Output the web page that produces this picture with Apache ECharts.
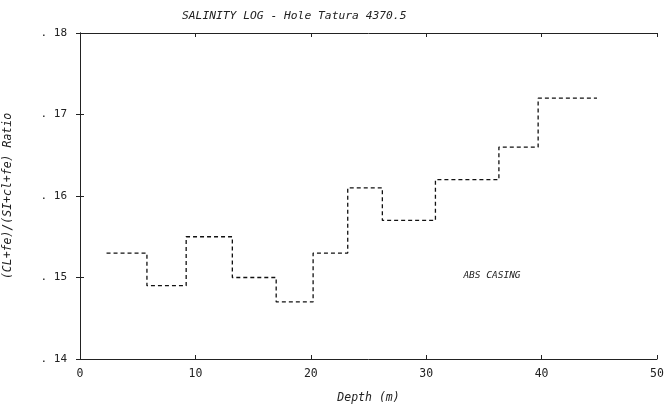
<!DOCTYPE html>
<html>
<head>
<meta charset="utf-8">
<script src="https://cdn.jsdelivr.net/npm/echarts@6/dist/echarts.min.js"></script>
<style>html,body{margin:0;padding:0;background:#fff;}#c{width:666px;height:409px;}</style>
</head>
<body>
<div id="c"></div>
<script>
// Step boundaries (depth, m) and ratio level on each step
var depthEdges = [2.3, 5.8, 9.2, 13.2, 17.0, 20.2, 23.2, 26.2, 30.8, 36.3, 39.7, 44.8];
var ratios = [0.153, 0.149, 0.155, 0.150, 0.147, 0.153, 0.161, 0.157, 0.162, 0.166, 0.172];
var xTicks = [0, 10, 20, 30, 40, 50];
var yTicks = [0.14, 0.15, 0.16, 0.17, 0.18];
var annotation = {text: 'ABS CASING', depth: 35.7, ratio: 0.1503};

var stepData = depthEdges.map(function (d, i) {
  return [d, ratios[Math.min(i, ratios.length - 1)]];
});

var FONT = 'DejaVu Sans Mono';
var axisColor = '#222';
function yFmt(v) { return '. ' + Math.round(v * 100); }

var chart = echarts.init(document.getElementById('c'));
chart.setOption({
  animation: false,
  backgroundColor: '#fff',
  title: {
    text: 'SALINITY LOG - Hole Tatura 4370.5',
    left: 177, top: 6,
    textStyle: {fontFamily: FONT, fontStyle: 'italic', fontWeight: 'normal', fontSize: 11.3, color: '#222'}
  },
  grid: {left: 80, right: 9, top: 33, bottom: 50, containLabel: false, outerBoundsMode: 'none'},
  xAxis: [{
    type: 'value', min: xTicks[0], max: xTicks[xTicks.length - 1], interval: 10,
    name: 'Depth (m)', nameLocation: 'middle', nameGap: 33,
    nameTextStyle: {fontFamily: FONT, fontStyle: 'italic', fontSize: 11.5, color: '#222'},
    axisLine: {show: true, lineStyle: {color: axisColor, width: 1}},
    axisTick: {show: true, inside: true, length: 4, lineStyle: {color: axisColor}},
    axisLabel: {fontFamily: FONT, fontSize: 11.5, color: '#222', margin: 9},
    splitLine: {show: false}
  }, {
    type: 'value', position: 'top', min: xTicks[0], max: xTicks[xTicks.length - 1], interval: 10,
    axisLine: {show: true, lineStyle: {color: axisColor, width: 1}},
    axisTick: {show: true, inside: true, length: 4, lineStyle: {color: axisColor}},
    axisLabel: {show: false}, splitLine: {show: false}
  }],
  yAxis: [{
    type: 'value', min: yTicks[0], max: yTicks[yTicks.length - 1], interval: 0.01,
    name: '(CL+fe)/(SI+cl+fe) Ratio', nameLocation: 'middle', nameGap: 66,
    nameTextStyle: {fontFamily: FONT, fontStyle: 'italic', fontSize: 11.5, color: '#222'},
    axisLine: {show: true, lineStyle: {color: axisColor, width: 1}},
    axisTick: {show: true, inside: true, length: 4, lineStyle: {color: axisColor}},
    axisLabel: {fontFamily: FONT, fontSize: 11, color: '#222', margin: 13, formatter: yFmt},
    splitLine: {show: false}
  }, {
    type: 'value', position: 'right', min: yTicks[0], max: yTicks[yTicks.length - 1], interval: 0.01,
    axisLine: {show: true, lineStyle: {color: axisColor, width: 1}},
    axisTick: {show: true, inside: true, length: 4, lineStyle: {color: axisColor}},
    axisLabel: {show: false}, splitLine: {show: false}
  }],
  series: [{
    type: 'line',
    step: 'end',
    data: stepData,
    symbol: 'none',
    lineStyle: {color: '#111', width: 1.3, type: [4, 3]},
    markPoint: {
      symbol: 'circle', symbolSize: 0,
      data: [{coord: [annotation.depth, annotation.ratio], value: annotation.text}],
      label: {show: true, position: 'inside', formatter: annotation.text,
        fontFamily: FONT, fontStyle: 'italic', fontSize: 9.5, color: '#222'}
    }
  }]
});
</script>
</body>
</html>
